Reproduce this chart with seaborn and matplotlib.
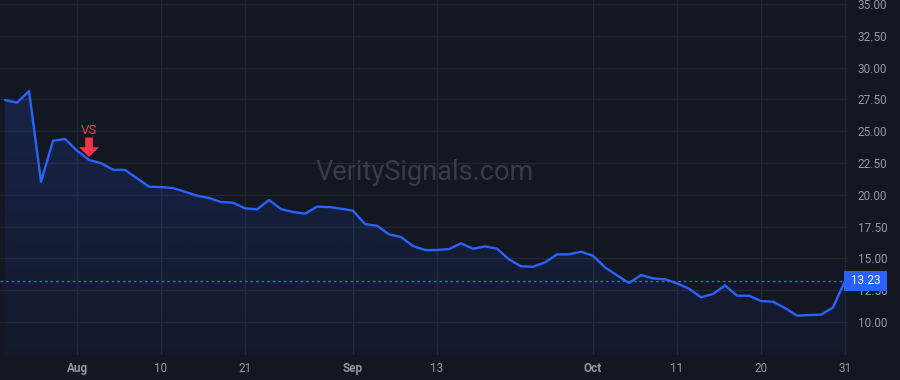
import matplotlib
matplotlib.use("Agg")
import matplotlib.pyplot as plt
import seaborn as sns
import numpy as np
import pandas as pd
from matplotlib.transforms import offset_copy, blended_transform_factory

# ---------------- data ----------------
start_date = "2023-07-24"
end_date = "2023-10-31"
holidays = ["2023-09-04"]

prices = [27.45, 27.24, 28.16, 21.03, 24.25, 24.39, 23.47, 22.74, 22.48, 21.97,
          21.95, 21.30, 20.64, 20.61, 20.53, 20.24, 19.93, 19.75, 19.43, 19.38,
          18.94, 18.86, 19.59, 18.88, 18.65, 18.52, 19.07, 19.04, 18.91, 18.75,
          17.70, 17.57, 16.89, 16.68, 15.97, 15.66, 15.66, 15.74, 16.18, 15.76,
          15.95, 15.76, 14.93, 14.38, 14.35, 14.69, 15.32, 15.32, 15.53, 15.21,
          14.30, 13.67, 13.07, 13.69, 13.43, 13.36, 13.04, 12.62, 11.95, 12.20,
          12.88, 12.07, 12.07, 11.65, 11.60, 11.10, 10.50, 10.55, 10.58, 11.15,
          13.23]

tick_dates = ["2023-08-01", "2023-08-10", "2023-08-21", "2023-09-01", "2023-09-13",
              "2023-10-02", "2023-10-11", "2023-10-20", "2023-10-31"]
tick_labels = ["Aug", "10", "21", "Sep", "13", "Oct", "11", "20", "31"]
month_labels = ["Aug", "Sep", "Oct"]

y_ticks = [10.0, 12.5, 15.0, 17.5, 20.0, 22.5, 25.0, 27.5, 30.0, 32.5, 35.0]

signal_date = "2023-08-02"
signal_label = "VS"
last_price = prices[-1]
watermark = "VeritySignals.com"

# ---------------- styles ----------------
BG = "#131722"
GRID = "#232733"
LINE = "#2962ff"
TXT = "#9598a1"
RED = "#f23645"

dates = pd.bdate_range(start_date, end_date)
dates = dates[~dates.isin(pd.to_datetime(holidays))]
idx = np.arange(len(dates))
df = pd.DataFrame({"i": idx, "price": prices})

sns.set_theme(style="dark")
plt.rcParams["font.family"] = ["Roboto", "DejaVu Sans"]

fig = plt.figure(figsize=(9, 3.8), dpi=100, facecolor=BG)
ax = fig.add_axes([0, 25 / 380, 848 / 900, 355 / 380])
ax.set_facecolor(BG)

ymin, ymax = 7.41, 35.31
xmin, xmax = -0.42, 70.25

# gradient fill under the line
poly = ax.fill_between(df["i"], df["price"], ymin, color="none", lw=0)
grad = np.zeros((256, 1, 4))
grad[:, 0, 0:3] = matplotlib.colors.to_rgb(LINE)
grad[:, 0, 3] = np.linspace(0.04, 0.17, 256)
im = ax.imshow(grad, extent=[xmin, xmax, ymin, max(prices)], aspect="auto",
               origin="lower", zorder=1)
im.set_clip_path(poly.get_paths()[0], transform=ax.transData)

sns.lineplot(data=df, x="i", y="price", ax=ax, color=LINE, lw=1.7, zorder=3)

ax.axhline(last_price, color=LINE, lw=1, ls=(0, (2, 2)), zorder=2)

ax.set_xlim(xmin, xmax)
ax.set_ylim(ymin, ymax)

xt = [dates.get_loc(pd.Timestamp(d)) for d in tick_dates]
ax.set_xticks(xt)
ax.set_xticklabels(tick_labels)
for t in ax.get_xticklabels():
    if t.get_text() in month_labels:
        t.set_fontweight("bold")

ax.yaxis.tick_right()
ax.set_yticks(y_ticks)
ax.set_yticklabels([f"{v:.2f}" for v in y_ticks])

ax.tick_params(axis="x", length=0, pad=5, labelsize=8.5, labelcolor=TXT)
ax.tick_params(axis="y", length=0, pad=7, labelsize=8.5, labelcolor=TXT)
ax.grid(True, color=GRID, lw=1)
ax.set_axisbelow(True)
for s in ax.spines.values():
    s.set_visible(False)
ax.set_xlabel("")
ax.set_ylabel("")

# last-price label
tr = blended_transform_factory(ax.transAxes, ax.transData)
ax.text(1.0, last_price, f" {last_price:.2f} ",
        transform=tr, ha="left", va="center", color="white", fontsize=8.5,
        bbox=dict(boxstyle="square,pad=0.3", fc=LINE, ec="none"),
        clip_on=False, zorder=10)

# signal arrow
si = dates.get_loc(pd.Timestamp(signal_date))
sv = prices[si]
tip_tr = offset_copy(ax.transData, fig=fig, x=0, y=3, units="dots")
ax.annotate("", xy=(si, sv), xycoords=tip_tr, xytext=(0, 14),
            textcoords="offset points",
            arrowprops=dict(facecolor=RED, edgecolor="none", width=5.5,
                            headwidth=14.5, headlength=7, shrink=0),
            zorder=6)
ax.annotate(signal_label, xy=(si, sv), xytext=(0, 21), textcoords="offset points",
            ha="center", va="center", color=RED, fontsize=9.5, zorder=6)

fig.text(425 / 900, 1 - 172 / 380, watermark, ha="center", va="center",
         color="#383c47", fontsize=19.5, zorder=0)

fig.savefig("out.png", dpi=100, facecolor=BG)
